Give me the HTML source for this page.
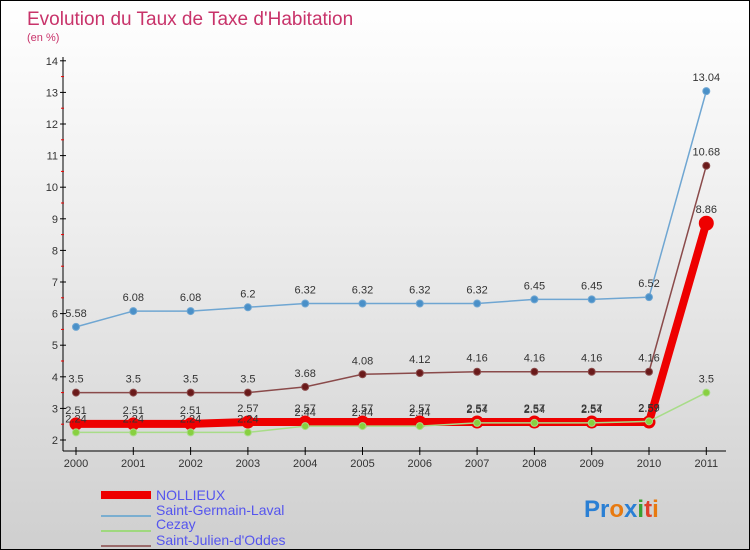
<!DOCTYPE html>
<html><head><meta charset="utf-8"><style>
body{margin:0}
#c{width:748px;height:548px;border:1px solid #000;background:linear-gradient(#ffffff 0%,#eeeeee 40%,#cfcfcf 100%);position:relative;font-family:"Liberation Sans",sans-serif;overflow:hidden}
text{font-family:"Liberation Sans",sans-serif}
</style></head><body>
<div id="c">
<svg id="s" width="748" height="548">
<text x="26" y="24" font-size="19" fill="#c8336a">Evolution du Taux de Taxe d'Habitation</text>
<text x="26" y="40" font-size="11" fill="#c8336a">(en %)</text>
<g id="axes"></g><g id="series"></g>
<g>
<rect x="100" y="490" width="50" height="8" fill="#e00"/>
<text x="155" y="499" font-size="14" fill="#5555ee">NOLLIEUX</text>
<line x1="100" y1="515" x2="150" y2="515" stroke="#7aaed0" stroke-width="2"/>
<text x="155" y="514" font-size="14" fill="#5555ee">Saint-Germain-Laval</text>
<line x1="100" y1="530" x2="150" y2="530" stroke="#9fd87e" stroke-width="2"/>
<text x="155" y="528" font-size="14" fill="#5555ee">Cezay</text>
<line x1="100" y1="545" x2="150" y2="545" stroke="#9a6a6a" stroke-width="2"/>
<text x="155" y="544" font-size="14" fill="#5555ee">Saint-Julien-d'Oddes</text>
</g>
<text x="583" y="516" font-size="24" font-weight="bold"><tspan fill="#2a7fd4">Pr</tspan><tspan fill="#e87a10">o</tspan><tspan fill="#2a7fd4">x</tspan><tspan fill="#3aa030">i</tspan><tspan fill="#e0402a">t</tspan><tspan fill="#e87a10">i</tspan></text>
</svg></div>
<script>
const years=["2000","2001","2002","2003","2004","2005","2006","2007","2008","2009","2010","2011"];
const yTicks=[2,3,4,5,6,7,8,9,10,11,12,13,14];
const nollieux=[2.51,2.51,2.51,2.57,2.57,2.57,2.57,2.57,2.57,2.57,2.57,8.86];
const saintGermain=[5.58,6.08,6.08,6.2,6.32,6.32,6.32,6.32,6.45,6.45,6.52,13.04];
const cezay=[2.24,2.24,2.24,2.24,2.44,2.44,2.44,2.54,2.54,2.54,2.59,3.5];
const saintJulien=[3.5,3.5,3.5,3.5,3.68,4.08,4.12,4.16,4.16,4.16,4.16,10.68];
const NS="http://www.w3.org/2000/svg";
function X(i){return 75+i*57.3;}
function Y(v){return 439-(v-2)*31.6;}
function mk(t,a,p){const e=document.createElementNS(NS,t);for(const k in a)e.setAttribute(k,a[k]);p.appendChild(e);return e;}
const ax=document.getElementById('axes');
let l=mk('line',{x1:62,y1:56,x2:62,y2:450,stroke:'#000'},ax);


l=mk('line',{x1:62,y1:450,x2:725,y2:450,stroke:'#000'},ax);


yTicks.forEach(v=>{
 mk('line',{x1:59,y1:Y(v),x2:65,y2:Y(v),stroke:'#000'},ax);
 if(v<14)mk('line',{x1:60,y1:Y(v+0.5),x2:63,y2:Y(v+0.5),stroke:'#e00'},ax);
 const t=mk('text',{x:57,y:Y(v)+4,'font-size':11,fill:'#333','text-anchor':'end'},ax);t.textContent=v;
 
 
});
years.forEach((y,i)=>{
 mk('line',{x1:X(i),y1:446,x2:X(i),y2:454,stroke:'#000'},ax);
 const t=mk('text',{x:X(i),y:466,'font-size':11,fill:'#333','text-anchor':'middle'},ax);t.textContent=y;
 
 
});
const sg=document.getElementById('series');
function draw(name,data,color,dot,w,r){
 const g=mk('g',{},sg);
 
 
 const p=mk('polyline',{points:data.map((v,i)=>X(i)+','+Y(v)).join(' '),fill:'none',stroke:color,'stroke-width':w,'stroke-linejoin':'round'},g);
 
 
 data.forEach((v,i)=>{
  const c=mk('circle',{cx:X(i),cy:Y(v),r:(name==='nollieux'&&i===11)?7:r,fill:dot,stroke:color,'stroke-width':1},g);
  
  
  const t=mk('text',{x:X(i),y:Y(v)-10,'font-size':11,fill:'#333','text-anchor':'middle'},g);t.textContent=v;
  
  
 });
}
draw('saint-germain',saintGermain,'#6fa6d2','#4a90c8',1.5,3.5);
draw('saint-julien',saintJulien,'#8a4a4a','#6a1a1a',1.5,3.5);
draw('nollieux',nollieux,'#ee0000','#ee0000',8,6);
draw('cezay',cezay,'#a8dc88','#88d040',1.5,3.5);
</script>
</body></html>
